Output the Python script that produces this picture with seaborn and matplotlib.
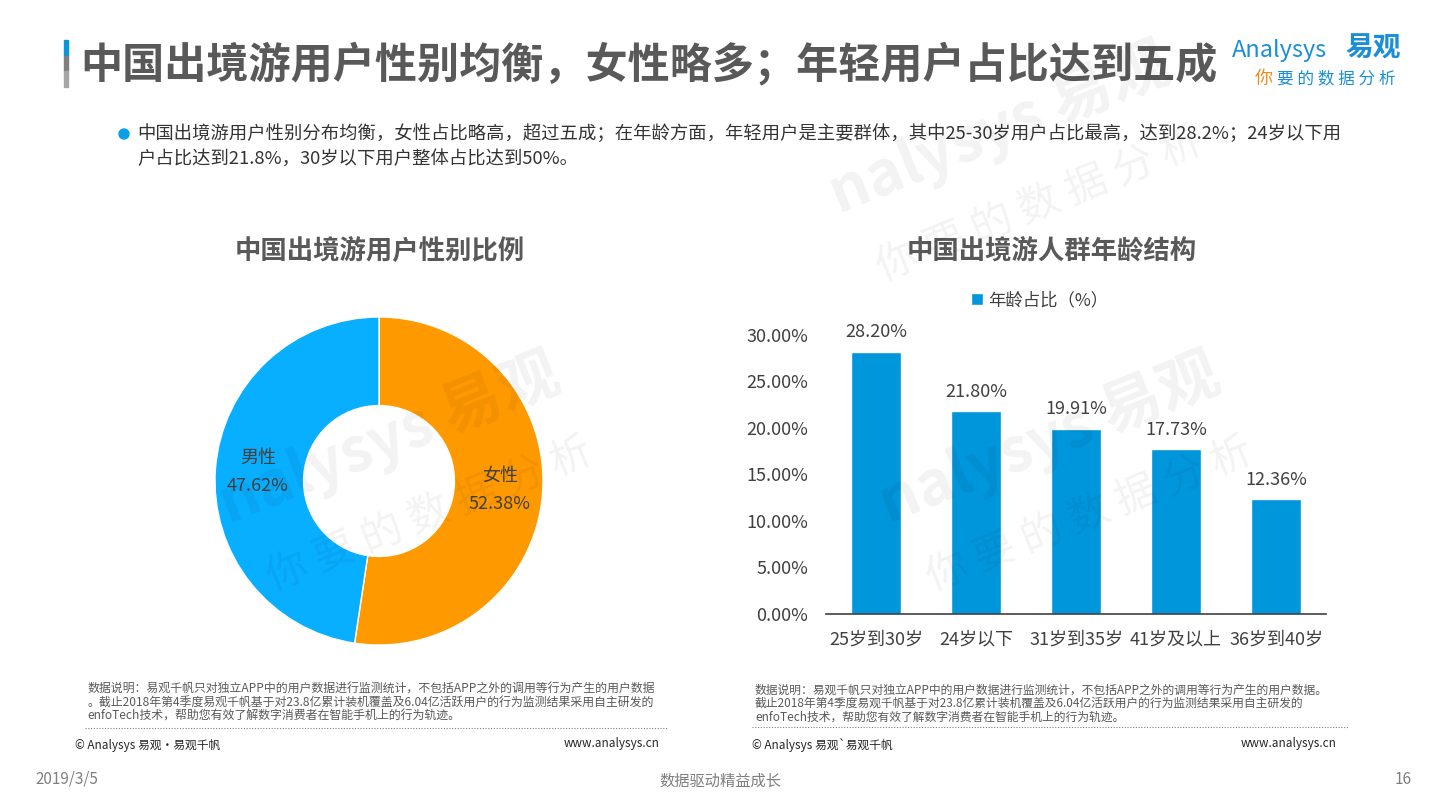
import matplotlib
matplotlib.use("Agg")
import numpy as np
import matplotlib.pyplot as plt
import seaborn as sns
from matplotlib.patches import Rectangle, Ellipse
from matplotlib.lines import Line2D

# ----------------------
# Data
# ----------------------
gender_labels = ['女性', '男性']
gender_share = [52.38, 47.62]
gender_colors = ['#FF9900', '#08AEFF']

age_groups = ['25岁到30岁', '24岁以下', '31岁到35岁', '41岁及以上', '36岁到40岁']
age_share = [28.20, 21.80, 19.91, 17.73, 12.36]
age_ticks = [0, 5, 10, 15, 20, 25, 30]

main_title = '中国出境游用户性别均衡，女性略多；年轻用户占比达到五成'
bullet_lines = ['中国出境游用户性别分布均衡，女性占比略高，超过五成；在年龄方面，年轻用户是主要群体，其中25-30岁用户占比最高，达到28.2%；24岁以下用',
                '户占比达到21.8%，30岁以下用户整体占比达到50%。']
note_left = ['数据说明：易观千帆只对独立APP中的用户数据进行监测统计，不包括APP之外的调用等行为产生的用户数据',
             '。截止2018年第4季度易观千帆基于对23.8亿累计装机覆盖及6.04亿活跃用户的行为监测结果采用自主研发的',
             'enfoTech技术，帮助您有效了解数字消费者在智能手机上的行为轨迹。']
note_right = ['数据说明：易观千帆只对独立APP中的用户数据进行监测统计，不包括APP之外的调用等行为产生的用户数据。',
              '截止2018年第4季度易观千帆基于对23.8亿累计装机覆盖及6.04亿活跃用户的行为监测结果采用自主研发的',
              'enfoTech技术，帮助您有效了解数字消费者在智能手机上的行为轨迹。']

W, H = 1440, 810
TXT = '#404040'
GRAY = '#595959'

sns.set_style("white")
plt.rcParams['font.family'] = ['Noto Sans CJK SC', 'DejaVu Sans']
plt.rcParams['axes.unicode_minus'] = False

fig = plt.figure(figsize=(14.4, 8.1), dpi=100)


def px(x, y):
    # pixel coords (top-left origin) -> figure fraction
    return x / W, 1 - y / H


def ftext(x, y, s, **kw):
    fx, fy = px(x, y)
    return fig.text(fx, fy, s, **kw)


# ----------------------
# Header
# ----------------------
for (y0, y1, c) in [(40, 56, '#0A96DC'), (56, 71, '#7F7F7F'), (71, 87, '#A6A6A6')]:
    fig.patches.append(Rectangle(px(64, y1), 4 / W, (y1 - y0) / H,
                                 transform=fig.transFigure, color=c, zorder=3))
ftext(80, 64, main_title, fontsize=30.3, fontweight='bold', color=GRAY, va='center', ha='left')

ftext(1232, 50, 'Analysys', fontsize=17, style='italic', color='#1A8FD8', va='center', ha='left')
ftext(1345, 49, '易观', fontsize=20, fontweight='bold', color='#1A8FD8', va='center', ha='left')
ftext(1255, 79, '你', fontsize=13, color='#F08C1E', va='center', ha='left')
ftext(1277, 79, '要 的 数 据 分 析', fontsize=12, color='#1A8FD8', va='center', ha='left')

# bullet
fig.patches.append(Ellipse(px(124, 134), 10 / W, 10 / H, transform=fig.transFigure, color='#0AA0E8'))
ftext(137, 134, bullet_lines[0], fontsize=13.2, color='#333333', va='center', ha='left')
ftext(137, 160, bullet_lines[1], fontsize=13.2, color='#333333', va='center', ha='left')

# chart titles
ftext(380, 251, '中国出境游用户性别比例', fontsize=19, fontweight='bold', color=GRAY, ha='center', va='center')
ftext(1052, 251, '中国出境游人群年龄结构', fontsize=19, fontweight='bold', color=GRAY, ha='center', va='center')

# ----------------------
# Donut
# ----------------------
cx, cy, r = 379, 481, 164
ax1 = fig.add_axes([(cx - r) / W, 1 - (cy + r) / H, 2 * r / W, 2 * r / H])
wedges, _ = ax1.pie(gender_share, colors=gender_colors, startangle=90, counterclock=False,
                    wedgeprops=dict(width=0.54, edgecolor='white', linewidth=1))
ax1.set_xlim(-1, 1)
ax1.set_ylim(-1, 1)
ax1.set_aspect('equal')
for w, lab, val in zip(wedges, gender_labels, gender_share):
    ang = np.deg2rad((w.theta1 + w.theta2) / 2)
    x, y = 0.74 * np.cos(ang), 0.74 * np.sin(ang)
    ax1.text(x, y, f'{lab}\n{val:.2f}%', ha='center', va='center', fontsize=13,
             color=TXT, linespacing=1.75)

# ----------------------
# Bars
# ----------------------
ax2 = fig.add_axes([826 / W, 1 - 614 / H, 500 / W, 279 / H])
sns.barplot(x=age_groups, y=age_share, color='#0096DC', width=0.5, saturation=1,
            label='年龄占比（%）', ax=ax2)
ax2.set_ylim(0, 30)
ax2.set_yticks(age_ticks)
ax2.set_yticklabels([f'{t:.2f}%' for t in age_ticks])
ax2.tick_params(axis='y', length=0, pad=13, labelsize=13, labelcolor=TXT)
ax2.tick_params(axis='x', length=0, pad=12, labelsize=13, labelcolor=TXT)
for s in ['top', 'right', 'left']:
    ax2.spines[s].set_visible(False)
ax2.spines['bottom'].set_color('#404040')
ax2.spines['bottom'].set_linewidth(1.2)
ax2.set_xlabel('')
ax2.set_ylabel('')
for p, v in zip(ax2.patches, age_share):
    ax2.annotate(f'{v:.2f}%', (p.get_x() + p.get_width() / 2, p.get_height()),
                 xytext=(0, 14), textcoords='offset points', ha='center', va='center',
                 fontsize=13, color=TXT, annotation_clip=False)
ax2.legend(loc='center', bbox_to_anchor=px(1040, 300), bbox_transform=fig.transFigure,
           frameon=False, fontsize=12.5, handlelength=0.7, handleheight=0.7,
           handletextpad=0.3, labelcolor=TXT)

# ----------------------
# Footnotes
# ----------------------
for i, line in enumerate(note_left):
    ftext(87, 689 + i * 13.5, line, fontsize=8.6, color=GRAY, va='center', ha='left')
for i, line in enumerate(note_right):
    ftext(755, 690 + i * 13.5, line, fontsize=8.5, color=GRAY, va='center', ha='left')

fig.add_artist(Line2D([85 / W, 667 / W], [1 - 728 / H] * 2, color='#7F7F7F',
                      linestyle=(0, (1, 1.5)), linewidth=0.8))
fig.add_artist(Line2D([752 / W, 1348 / W], [1 - 727 / H] * 2, color='#7F7F7F',
                      linestyle=(0, (1, 1.5)), linewidth=0.8))

ftext(75, 745, '© Analysys 易观·易观千帆', fontsize=8.5, color='#262626', va='center', ha='left')
ftext(660, 744, 'www.analysys.cn', fontsize=8.5, color='#262626', va='center', ha='right')
ftext(752, 745, '© Analysys 易观`易观千帆', fontsize=8.5, color='#262626', va='center', ha='left')
ftext(1337, 744, 'www.analysys.cn', fontsize=8.5, color='#262626', va='center', ha='right')

ftext(35, 779, '2019/3/5', fontsize=11, color='#7F7F7F', va='center', ha='left')
ftext(720, 781, '数据驱动精益成长', fontsize=11, color='#7F7F7F', va='center', ha='center')
ftext(1412, 779, '16', fontsize=11, color='#7F7F7F', va='center', ha='right')

# ----------------------
# Watermarks
# ----------------------
def watermark(x, y):
    ftext(x, y, 'nalysys 易观', fontsize=44, fontweight='bold', style='italic', color='#000000',
          alpha=0.05, rotation=22, ha='center', va='center', zorder=10)
    ftext(x + 40, y + 75, '你 要 的 数 据 分 析', fontsize=30, color='#000000',
          alpha=0.05, rotation=22, ha='center', va='center', zorder=10)


watermark(390, 440)
watermark(1050, 440)
watermark(1000, 130)

fig.savefig('out.png', dpi=100, facecolor='white')
